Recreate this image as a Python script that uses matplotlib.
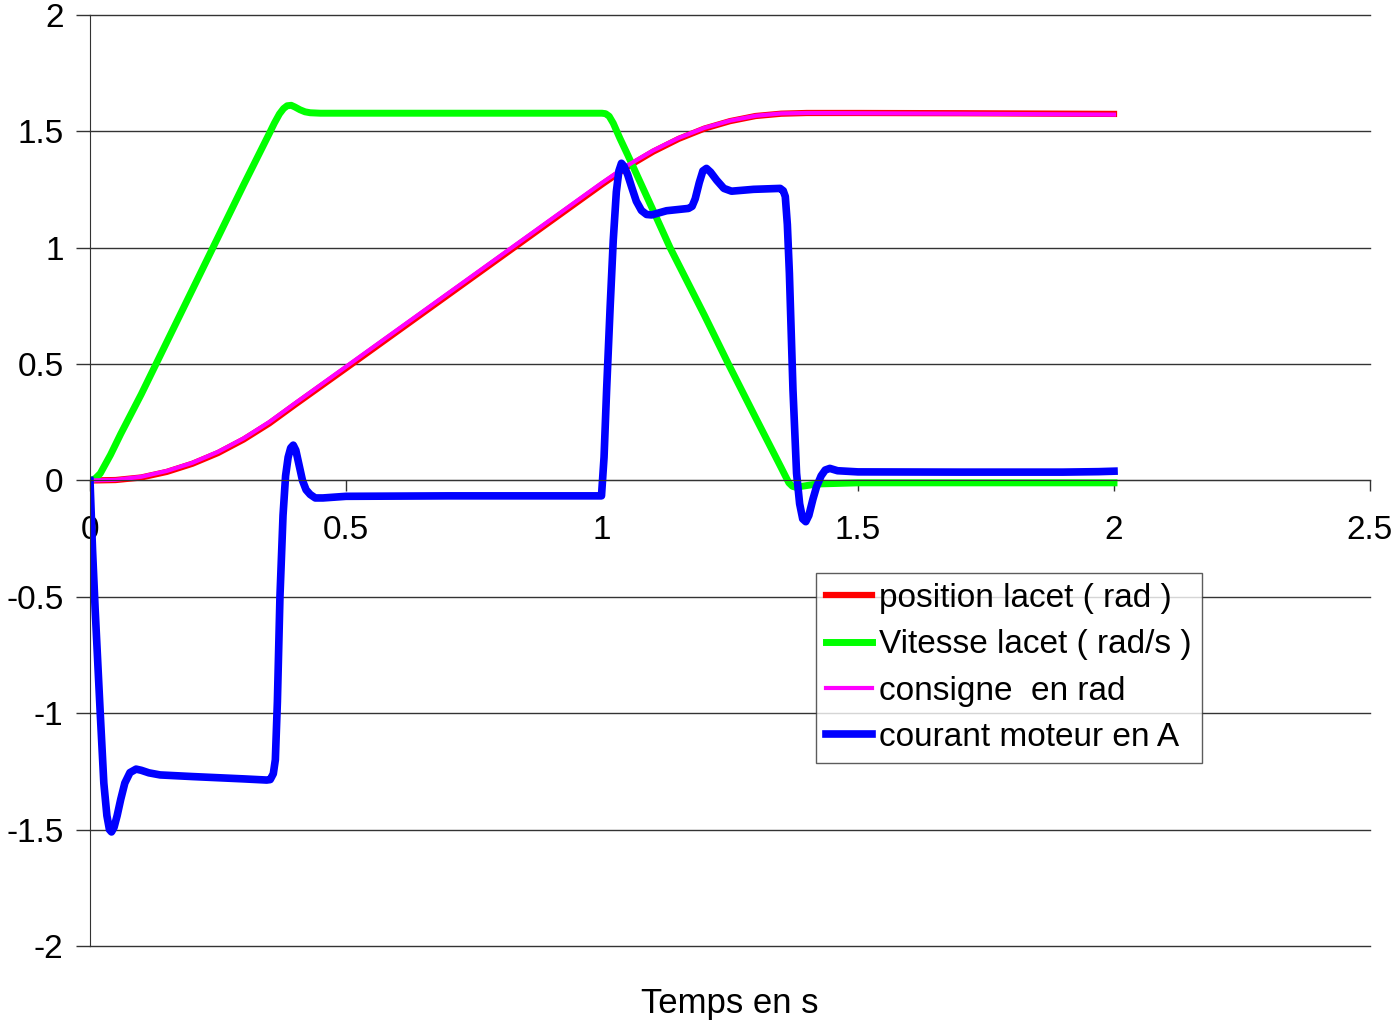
import matplotlib
matplotlib.use("Agg")
import matplotlib.pyplot as plt

plt.rcParams['font.family'] = ['Liberation Sans', 'DejaVu Sans']

# position lacet (rad)
t_pos = [0, 0.05, 0.1, 0.15, 0.2, 0.25, 0.3, 0.35, 0.4, 0.5, 0.6, 0.7, 0.8, 0.9,
         1.0, 1.05, 1.1, 1.15, 1.2, 1.25, 1.3, 1.35, 1.4, 1.5, 1.7, 2.0]
pos = [0, 0.002, 0.013, 0.037, 0.072, 0.118, 0.176, 0.245, 0.325, 0.482, 0.640,
       0.798, 0.956, 1.114, 1.272, 1.348, 1.413, 1.468, 1.512, 1.544, 1.566, 1.576,
       1.579, 1.579, 1.578, 1.575]

# consigne en rad
cons = [0, 0.003, 0.016, 0.041, 0.076, 0.123, 0.181, 0.251, 0.331, 0.489, 0.647,
        0.805, 0.963, 1.121, 1.279, 1.354, 1.418, 1.472, 1.515, 1.546, 1.567, 1.577,
        1.579, 1.578, 1.576, 1.572]

# Vitesse lacet (rad/s)
t_vit = [0, 0.01, 0.02, 0.03, 0.04, 0.06, 0.1, 0.2, 0.3, 0.35, 0.36, 0.37, 0.378,
         0.385, 0.393, 0.4, 0.41, 0.42, 0.43, 0.45, 0.5, 1.0, 1.007, 1.014, 1.022,
         1.035, 1.05, 1.1, 1.133, 1.2, 1.247, 1.3, 1.35, 1.358, 1.365, 1.372, 1.38,
         1.39, 1.42, 1.5, 2.0]
vit = [0, 0.008, 0.03, 0.07, 0.11, 0.2, 0.37, 0.82, 1.27, 1.49, 1.535, 1.575, 1.598,
       1.61, 1.612, 1.605, 1.593, 1.584, 1.58, 1.578, 1.578, 1.578, 1.576, 1.565,
       1.535, 1.47, 1.4, 1.16, 1.0, 0.71, 0.5, 0.27, 0.055, 0.02, -0.01, -0.025,
       -0.03, -0.025, -0.015, -0.01, -0.01]

# courant moteur en A
t_cour = [0, 0.005, 0.01, 0.02, 0.027, 0.033, 0.038, 0.042, 0.047, 0.053, 0.06,
          0.068, 0.078, 0.09, 0.1, 0.115, 0.137, 0.2, 0.3, 0.345, 0.352, 0.358,
          0.362, 0.366, 0.371, 0.377, 0.382, 0.387, 0.392, 0.397, 0.402, 0.408,
          0.415, 0.422, 0.43, 0.44, 0.455, 0.5, 0.7, 0.999, 1.004, 1.009, 1.016,
          1.022, 1.028, 1.033, 1.038, 1.043, 1.05, 1.058, 1.067, 1.077, 1.087,
          1.097, 1.126, 1.169, 1.176, 1.182, 1.19, 1.197, 1.204, 1.212, 1.224,
          1.238, 1.253, 1.296, 1.348, 1.354, 1.358, 1.362, 1.366, 1.373, 1.38,
          1.386, 1.392, 1.398, 1.404, 1.412, 1.419, 1.428, 1.436, 1.445, 1.46,
          1.5, 1.7, 1.9, 1.97, 2.0]
cour = [0, -0.3, -0.55, -1.0, -1.3, -1.44, -1.5, -1.51, -1.49, -1.44, -1.37,
        -1.3, -1.255, -1.24, -1.245, -1.256, -1.265, -1.272, -1.282, -1.287,
        -1.285, -1.26, -1.2, -0.95, -0.5, -0.15, 0.02, 0.1, 0.14, 0.152, 0.13,
        0.07, 0.0, -0.04, -0.06, -0.075, -0.075, -0.068, -0.066, -0.066, 0.1,
        0.389, 0.75, 1.033, 1.24, 1.33, 1.363, 1.35, 1.315, 1.26, 1.2, 1.16,
        1.143, 1.141, 1.159, 1.169, 1.178, 1.21, 1.28, 1.33, 1.341, 1.325, 1.29,
        1.255, 1.243, 1.251, 1.255, 1.245, 1.22, 1.1, 0.89, 0.389, 0.031, -0.1,
        -0.165, -0.177, -0.15, -0.08, -0.027, 0.02, 0.045, 0.052, 0.042, 0.037,
        0.036, 0.036, 0.038, 0.04]

x_ticks = [0, 0.5, 1, 1.5, 2, 2.5]
x_labels = ['0', '0.5', '1', '1.5', '2', '2.5']
y_ticks = [-2, -1.5, -1, -0.5, 0, 0.5, 1, 1.5, 2]
y_labels = ['-2', '-1.5', '-1', '-0.5', '0', '0.5', '1', '1.5', '2']

fig = plt.figure(figsize=(13.96, 10.21), dpi=100)
ax = fig.add_axes([90 / 1396, 1 - 946 / 1021, 1280 / 1396, 931 / 1021])

ax.plot(t_pos, pos, color='#ff0000', lw=4.5, label='position lacet ( rad )')
ax.plot(t_vit, vit, color='#00ff00', lw=5, label='Vitesse lacet ( rad/s )')
ax.plot(t_pos, cons, color='#ff00ff', lw=3, label='consigne  en rad')
ax.plot(t_cour, cour, color='#0000ff', lw=5.5, label='courant moteur en A')

ax.set_xlim(0, 2.5)
ax.set_ylim(-2, 2)
ax.set_xticks(x_ticks)
ax.set_xticklabels(x_labels)
ax.set_yticks(y_ticks)
ax.set_yticklabels(y_labels)

ax.grid(axis='y', color='#333333', lw=1)
for gl in ax.get_ygridlines():
    gl.set_clip_on(False)
ax.set_axisbelow(True)
ax.spines['top'].set_visible(False)
ax.spines['right'].set_visible(False)
ax.spines['bottom'].set_position(('data', 0))
ax.spines['left'].set_color('#333333')
ax.spines['bottom'].set_color('#333333')
ax.tick_params(axis='x', direction='out', length=8, width=1, pad=17,
               labelsize=24, color='#333333')
ax.tick_params(axis='y', direction='out', length=10, width=1, pad=9,
               labelsize=24, color='#333333')

fig.text(730 / 1396, 1 - 1003 / 1021, 'Temps en s', fontsize=25,
         ha='center', va='center')

leg = ax.legend(loc='upper left', bbox_to_anchor=(0.567, 0.4007), fontsize=24,
                frameon=True, fancybox=False, edgecolor='#333333',
                handlelength=1.4, handletextpad=0.2, labelspacing=0.46,
                borderpad=0.3, borderaxespad=0)
leg.get_frame().set_linewidth(1)

fig.savefig('out.png', dpi=100)
